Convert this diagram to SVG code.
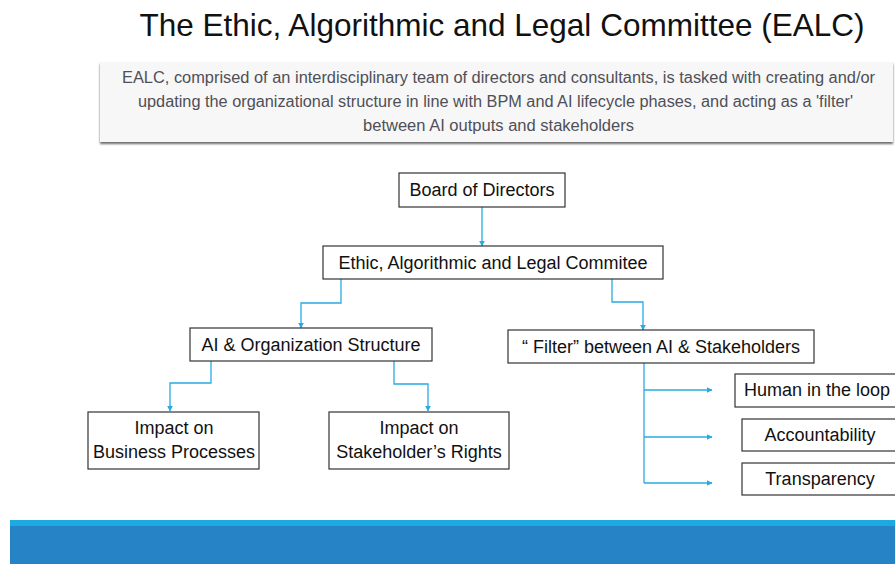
<svg xmlns="http://www.w3.org/2000/svg" width="895" height="564" viewBox="0 0 895 564">
  <style>
    .title { font-family: "Liberation Sans", Arial, sans-serif; font-size: 32px; fill: #111; text-anchor: middle; }
    .desc { font-family: "Liberation Sans", Arial, sans-serif; font-size: 16px; fill: #4f4f57; }
    .box { fill: #fff; stroke: #333; stroke-width: 1.2; }
    .lbl { font-family: "Liberation Sans", Arial, sans-serif; font-size: 18px; fill: #111; text-anchor: middle; }
    .conn { fill: none; stroke: #29abe2; stroke-width: 1.3; marker-end: url(#arr); }
  </style>
  <defs>
    <marker id="arr" viewBox="0 0 10 10" refX="9" refY="5" markerWidth="6" markerHeight="6" markerUnits="userSpaceOnUse" orient="auto">
      <path d="M0,0 L10,5 L0,10 z" fill="#29abe2"/>
    </marker>
    <filter id="shadow" x="-5%" y="-20%" width="110%" height="150%">
      <feDropShadow dx="0" dy="2" stdDeviation="1.2" flood-color="#444" flood-opacity="0.8"/>
    </filter>
  </defs>

  <rect width="895" height="564" fill="#fff"/>

  <!-- heading -->
  <text class="title" x="502" y="36" textLength="725" lengthAdjust="spacingAndGlyphs">The Ethic, Algorithmic and Legal Committee (EALC)</text>

  <!-- summary panel -->
  <g id="summary">
    <rect x="100" y="62" width="793" height="80" fill="#f7f7f7" filter="url(#shadow)"/>
    <text class="desc" x="122" y="83" textLength="753" lengthAdjust="spacingAndGlyphs">EALC, comprised of an interdisciplinary team of directors and consultants, is tasked with creating and/or</text>
    <text class="desc" x="138" y="107" textLength="715" lengthAdjust="spacingAndGlyphs">updating the organizational structure in line with BPM and AI lifecycle phases, and acting as a 'filter'</text>
    <text class="desc" x="363" y="131" textLength="271" lengthAdjust="spacingAndGlyphs">between AI outputs and stakeholders</text>
  </g>

  <!-- connectors -->
  <g id="connectors">
    <path class="conn" d="M482,207 V246"/>
    <path class="conn" d="M341,279 V303 H301 V328"/>
    <path class="conn" d="M612,279 V302 H643 V330"/>
    <path class="conn" d="M211,361 V383 H170 V411"/>
    <path class="conn" d="M394,361 V384 H428 V411"/>
    <path fill="none" stroke="#29abe2" stroke-width="1.3" d="M644,363 V483"/>
    <path class="conn" d="M644,390 H712"/>
    <path class="conn" d="M644,437 H712"/>
    <path class="conn" d="M644,483 H712"/>
  </g>

  <!-- nodes -->
  <g id="board">
    <rect class="box" x="399" y="173" width="166" height="34"/>
    <text class="lbl" x="482" y="196">Board of Directors</text>
  </g>
  <g id="ealc">
    <rect class="box" x="323" y="246" width="340" height="33"/>
    <text class="lbl" x="493" y="269">Ethic, Algorithmic and Legal Commitee</text>
  </g>
  <g id="ai-org">
    <rect class="box" x="190" y="328" width="242" height="33"/>
    <text class="lbl" x="311" y="351">AI &amp; Organization Structure</text>
  </g>
  <g id="filter">
    <rect class="box" x="508" y="330" width="306" height="33"/>
    <text class="lbl" x="661" y="353">“ Filter”  between AI &amp; Stakeholders</text>
  </g>
  <g id="impact-bp">
    <rect class="box" x="88" y="412" width="171" height="57"/>
    <text class="lbl" x="174" y="434">Impact on</text>
    <text class="lbl" x="174" y="458">Business Processes</text>
  </g>
  <g id="impact-sr">
    <rect class="box" x="329" y="412" width="180" height="57"/>
    <text class="lbl" x="419" y="434">Impact on</text>
    <text class="lbl" x="419" y="458">Stakeholder’s Rights</text>
  </g>
  <g id="human-loop">
    <rect class="box" x="735" y="374" width="170" height="33"/>
    <text class="lbl" x="744" y="396" style="text-anchor:start">Human in the loop</text>
  </g>
  <g id="accountability">
    <rect class="box" x="742" y="419" width="160" height="32"/>
    <text class="lbl" x="820" y="441">Accountability</text>
  </g>
  <g id="transparency">
    <rect class="box" x="742" y="463" width="160" height="32"/>
    <text class="lbl" x="820" y="485">Transparency</text>
  </g>

  <!-- footer band -->
  <rect x="10" y="520" width="885" height="6" fill="#1daae2"/>
  <rect x="10" y="526" width="885" height="38" fill="#2683c6"/>
</svg>
